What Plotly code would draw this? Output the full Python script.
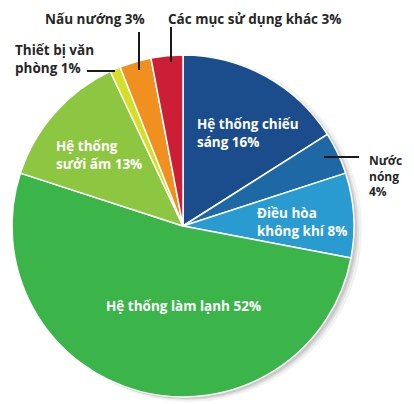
import plotly.graph_objects as go

categories = ["Hệ thống chiếu sáng", "Nước nóng", "Điều hòa không khí",
              "Hệ thống làm lạnh", "Hệ thống sưởi ấm", "Thiết bị văn phòng",
              "Nấu nướng", "Các mục sử dụng khác"]
values = [16, 4, 8, 52, 13, 1, 3, 3]
label_texts = ["Hệ thống chiếu<br>sáng 16%", "Nước<br>nóng<br>4%", "Điều hòa<br>không khí 8%",
               "Hệ thống làm lạnh 52%", "Hệ thống<br>sưởi ấm 13%", "Thiết bị văn<br>phòng 1%",
               "Nấu nướng 3%", "Các mục sử dụng khác 3%"]

colors = ["#1b4d8c", "#1e68a6", "#2a9bd0", "#3bb44a", "#8dc641", "#d6de26", "#f0901f", "#cc1f36"]

OFF = 8  # page body margin
W, H = 414 - OFF, 404 - OFF
def px(x): return min(max((x - OFF) / W, 0), 1)
def py(y): return min(max(1 - (y - OFF) / H, 0), 1)

cx, cy, r = 183, 226, 171

def dom(dx=0, dy=0, dr=0):
    return dict(x=[px(cx - r - dr + dx), px(cx + r + dr + dx)],
                y=[py(cy + r + dr + dy), py(cy - r - dr + dy)])

fig = go.Figure()
# soft shadow layers
for dx, dy, dr, a in [(6, 3, 2, 0.05), (5, 3, 0, 0.08), (3, 2, 0, 0.10)]:
    fig.add_trace(go.Pie(values=[1], labels=["shadow"], sort=False, textinfo="none",
                         hoverinfo="skip", showlegend=False,
                         marker=dict(colors=[f"rgba(0,0,0,{a})"], line=dict(width=0)),
                         domain=dom(dx, dy, dr)))

fig.add_trace(go.Pie(labels=categories, values=values, sort=False, direction="clockwise",
                     rotation=0, textinfo="none", showlegend=False,
                     marker=dict(colors=colors, line=dict(color="white", width=1.5)),
                     domain=dom()))

font_w = dict(family="Open Sans", size=13.5, color="white")
font_d = dict(family="Open Sans", size=13.5, color="#262626")
font_s = dict(family="Open Sans", size=12, color="#262626")

# label positions (pixel coords: x, y, anchor, font)
pos = [
    (195, 133, "left", font_w),
    (367, 176, "left", font_s),
    (255, 222, "left", font_w),
    (183, 306, "center", font_w),
    (54, 155, "left", font_w),
    (13, 59, "left", font_d),
    (95, 19, "center", font_d),
    (254, 19, "center", font_d),
]
for t, (x, y, anc, f) in zip(label_texts, pos):
    fig.add_annotation(x=px(x), y=py(y), xref="paper", yref="paper", text=f"<b>{t}</b>",
                       showarrow=False, xanchor=anc, yanchor="middle", align=anc, font=f)

lines = [((139, 32), (139, 70)), ((171, 27), (171, 62)), ((87, 71), (115, 71)), ((324, 157), (359, 157))]
for (x0, y0), (x1, y1) in lines:
    fig.add_shape(type="line", xref="paper", yref="paper", x0=px(x0), y0=py(y0), x1=px(x1), y1=py(y1),
                  line=dict(color="#1a1a1a", width=2))

fig.update_layout(width=W, height=H, margin=dict(l=0, r=0, t=0, b=0),
                  paper_bgcolor="white", plot_bgcolor="white")
fig.write_html("out.html")
